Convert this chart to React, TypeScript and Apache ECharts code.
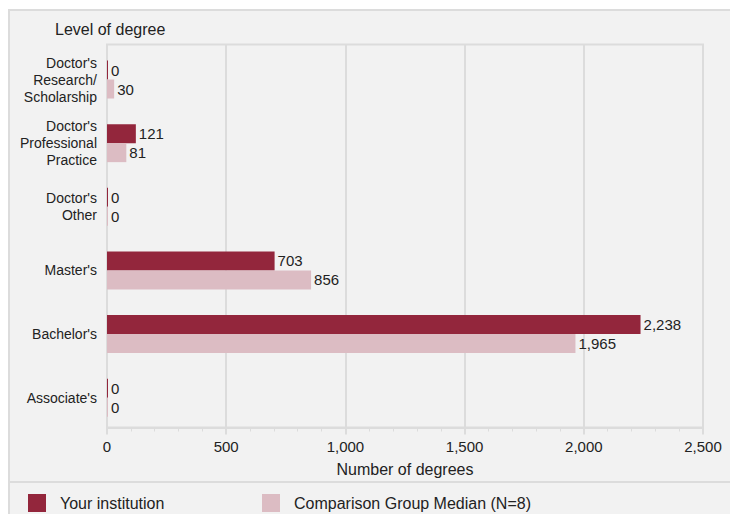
import React, { useEffect, useRef } from "react";
import * as echarts from "echarts";

const categories = [
  "Doctor's\nResearch/\nScholarship",
  "Doctor's\nProfessional\nPractice",
  "Doctor's\nOther",
  "Master's",
  "Bachelor's",
  "Associate's",
];
const yourInstitution = [0, 121, 0, 703, 2238, 0];
const comparisonMedian = [30, 81, 0, 856, 1965, 0];
const seriesNames = ["Your institution", "Comparison Group Median (N=8)"];
const xTicks = { min: 0, max: 2500, interval: 500 };

const FONT = "'Liberation Sans', Arial, Helvetica, sans-serif";
const DARK = "#93263c";
const LIGHT = "#dcbcc3";
const GRIDC = "#dcdcdc";
const TXT = "#222222";

export default function App() {
  const ref = useRef<HTMLDivElement>(null);
  useEffect(() => {
    document.body.style.margin = "0";
    const chart = echarts.init(ref.current!, null, { renderer: "svg" });
    const fmt = (v: number) => v.toLocaleString("en-US");
    const label = {
      show: true,
      position: "right",
      distance: 3,
      color: TXT,
      fontSize: 15,
      fontFamily: FONT,
      formatter: (p: any) => fmt(p.value),
    };
    const legendBase = {
      top: 494,
      padding: 0,
      itemWidth: 18,
      itemHeight: 18,
      icon: "rect",
      selectedMode: false,
      textStyle: { fontSize: 16, color: TXT, fontFamily: FONT, padding: [0, 0, 0, 9] },
    };
    chart.setOption({
      animation: false,
      backgroundColor: "#ffffff",
      textStyle: { fontFamily: FONT },
      graphic: [
        {
          type: "rect",
          z: -10,
          silent: true,
          shape: { x: 9, y: 10, width: 760, height: 540 },
          style: { fill: "#f2f2f2", stroke: GRIDC, lineWidth: 2 },
        },
        {
          type: "line",
          z: -9,
          silent: true,
          shape: { x1: 9, y1: 482, x2: 730, y2: 482 },
          style: { stroke: GRIDC, lineWidth: 2 },
        },
        {
          type: "text",
          x: 55,
          y: 29,
          style: {
            text: "Level of degree",
            fontSize: 16,
            fontFamily: FONT,
            fill: TXT,
            verticalAlign: "middle",
          },
        },
      ],
      legend: [
        { ...legendBase, data: [seriesNames[0]], left: 28 },
        { ...legendBase, data: [seriesNames[1]], left: 262 },
      ],
      grid: [
        {
          left: 107,
          right: 27,
          top: 44.5,
          bottom: 86.5,
          show: true,
          backgroundColor: "#f2f2f2",
          borderColor: GRIDC,
          borderWidth: 2,
        },
        {
          left: 107,
          right: 27,
          top: 47.7,
          bottom: 84.5,
          show: false,
        },
      ],
      xAxis: [
        {
          gridIndex: 0,
          type: "value",
          min: xTicks.min,
          max: xTicks.max,
          interval: xTicks.interval,
          name: "Number of degrees",
          nameLocation: "middle",
          nameGap: 34,
          nameTextStyle: { fontSize: 16, color: TXT, fontFamily: FONT },
          axisLine: { show: true, lineStyle: { color: GRIDC, width: 2 } },
          axisTick: { show: true, length: 7, lineStyle: { color: GRIDC, width: 2 } },
          minorTick: { show: true, splitNumber: 5, length: 4, lineStyle: { color: GRIDC, width: 1 } },
          axisLabel: {
            fontSize: 15,
            color: TXT,
            fontFamily: FONT,
            margin: 11,
            formatter: (v: number) => fmt(v),
          },
          splitLine: { show: true, lineStyle: { color: GRIDC, width: 2 } },
        },
        {
          gridIndex: 1,
          type: "value",
          min: xTicks.min,
          max: xTicks.max,
          interval: xTicks.interval,
          show: false,
          splitLine: { show: false },
        },
      ],
      yAxis: [
        {
          gridIndex: 0,
          type: "category",
          data: categories,
          inverse: true,
          show: false,
        },
        {
          gridIndex: 1,
          type: "category",
          data: categories,
          inverse: true,
          axisLine: { show: false },
          axisTick: { show: false },
          splitLine: { show: false },
          axisLabel: {
            fontSize: 14,
            color: TXT,
            fontFamily: FONT,
            lineHeight: 17,
            margin: 10,
            align: "right",
          },
        },
      ],
      series: [
        {
          name: seriesNames[0],
          type: "bar",
          xAxisIndex: 1,
          yAxisIndex: 1,
          data: yourInstitution,
          barWidth: 19,
          barGap: "0%",
          barMinHeight: 1,
          itemStyle: { color: DARK },
          label,
        },
        {
          name: seriesNames[1],
          type: "bar",
          xAxisIndex: 1,
          yAxisIndex: 1,
          data: comparisonMedian,
          barWidth: 19,
          barGap: "0%",
          barMinHeight: 1,
          itemStyle: { color: LIGHT },
          label,
        },
      ],
    });
    return () => chart.dispose();
  }, []);
  return <div ref={ref} style={{ width: 730, height: 514 }} />;
}
